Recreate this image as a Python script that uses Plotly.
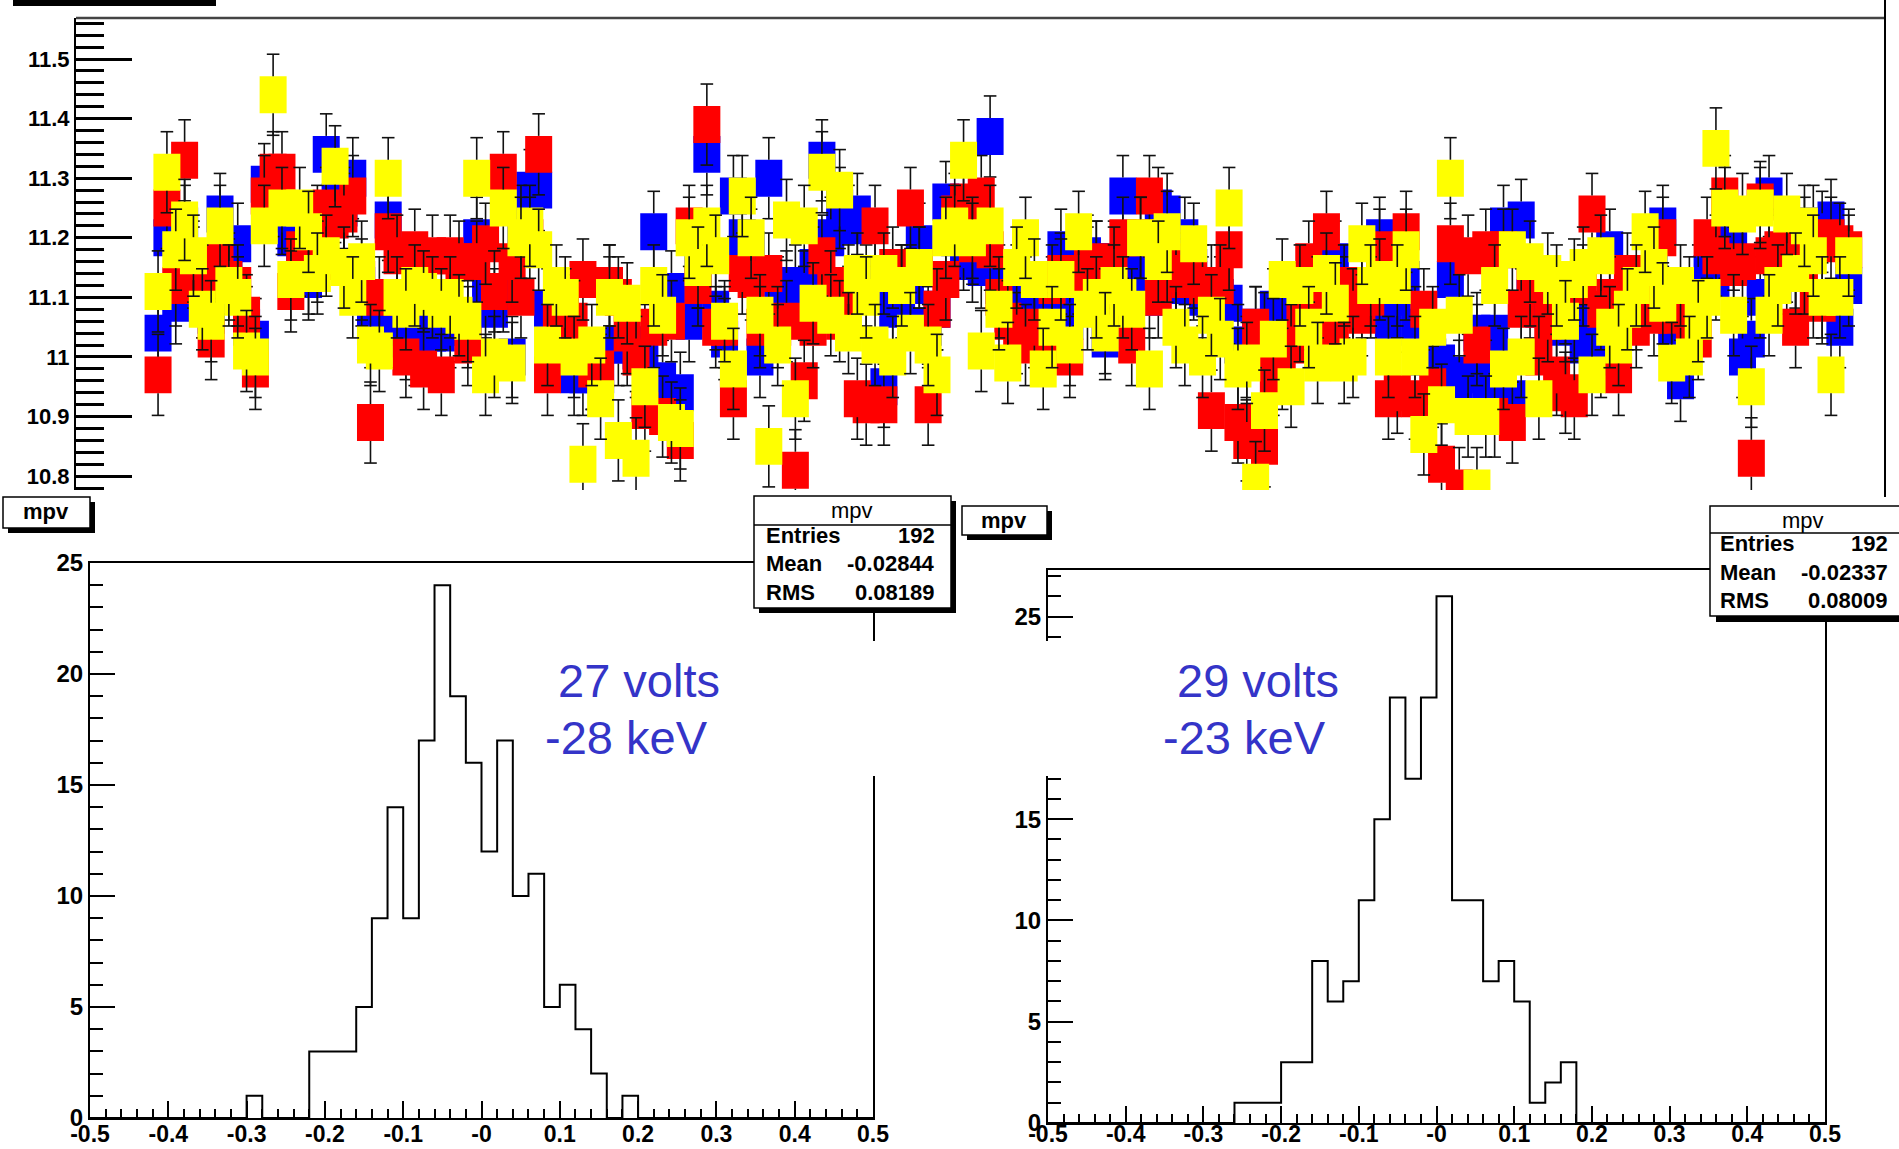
import plotly.graph_objects as go

W, H = 1899, 1149

# ---------------- top panel data: mpv per channel, three series ----------------
channels = list(range(192))

mpv_blue = [
    11.04, 11.20, 11.09, 11.22, 11.15, 11.10, 11.07, 11.24, 11.14, 11.19,
    11.05, 11.03, 11.29, 11.27, 11.24, 11.20, 11.17, 11.13, 11.22, 11.34,
    11.26, 11.25, 11.30, 11.12, 11.05, 11.06, 11.23, 11.05, 11.03, 11.02,
    11.04, 11.04, 11.04, 11.05, 11.06, 11.05, 11.20, 11.10, 11.08, 11.11,
    11.00, 11.22, 11.28, 11.28, 11.08, 11.08, 11.07, 10.97, 10.97, 10.98,
    10.97, 11.12, 11.02, 11.02, 11.01, 11.02, 11.21, 10.96, 11.11, 10.94,
    11.06, 11.15, 11.34, 11.08, 11.03, 11.27, 11.20, 11.18, 11.00, 11.30,
    11.10, 11.11, 11.12, 11.11, 11.15, 11.33, 11.20, 11.25, 11.22, 11.24,
    11.12, 11.14, 10.95, 11.08, 11.10, 11.12, 11.19, 11.05, 11.08, 11.26,
    11.20, 11.18, 11.16, 11.15, 11.37, 11.12, 11.10, 11.12, 11.10, 11.08,
    11.08, 11.10, 11.18, 11.06, 11.12, 11.17, 11.16, 11.03, 11.16, 11.27,
    11.16, 11.14, 11.10, 11.25, 11.24, 11.12, 11.20, 11.15, 11.10, 11.12,
    11.10, 11.09, 11.02, 11.00, 11.05, 11.04, 11.08, 11.08, 11.08, 11.09,
    11.08, 11.08, 11.10, 11.16, 11.10, 11.08, 11.10, 11.12, 11.20, 11.06,
    11.10, 11.13, 11.05, 11.00, 11.00, 10.99, 11.13, 10.96, 10.97, 11.04,
    10.96, 11.04, 11.22, 10.93, 11.23, 11.10, 11.08, 11.10, 11.05, 11.09,
    11.06, 11.02, 11.02, 11.00, 11.18, 11.06, 11.10, 11.08, 11.12, 11.14,
    11.22, 11.05, 10.96, 11.10, 11.12, 11.14, 11.13, 11.20, 11.18, 11.00,
    11.03, 11.10, 11.27, 11.12, 11.14, 11.15, 11.20, 11.22, 11.21, 11.23, 11.05, 11.12,
]

mpv_red = [
    10.97, 11.25, 11.12, 11.33, 11.16, 11.12, 11.03, 11.16, 11.13, 11.12,
    11.07, 10.98, 11.27, 11.31, 11.31, 11.11, 11.18, 11.14, 11.16, 11.25,
    11.23, 11.24, 11.27, 11.13, 10.89, 11.10, 11.21, 11.17, 11.00, 11.18,
    10.98, 11.17, 10.97, 11.17, 11.16, 11.02, 11.16, 11.19, 11.11, 11.31,
    11.16, 11.10, 11.20, 11.34, 10.97, 11.07, 11.08, 11.06, 11.13, 10.98,
    10.98, 11.12, 11.10, 11.04, 11.00, 10.91, 11.05, 10.90, 11.06, 10.86,
    11.22, 11.12, 11.39, 11.05, 11.05, 10.93, 11.14, 11.13, 11.05, 11.14,
    11.05, 11.06, 10.81, 10.96, 11.05, 11.17, 11.11, 11.06, 11.12, 10.93,
    10.92, 11.22, 10.92, 11.15, 11.12, 11.25, 11.15, 10.92, 11.08, 11.13,
    11.24, 11.26, 11.19, 11.27, 11.18, 11.10, 11.06, 11.04, 11.02, 11.05,
    11.04, 11.12, 11.14, 11.00, 11.14, 11.15, 11.16, 11.08, 11.15, 11.20,
    11.02, 11.20, 11.27, 11.10, 11.16, 11.14, 11.13, 11.13, 11.12, 10.91,
    11.12, 11.18, 10.89, 10.86, 11.05, 10.85, 10.97, 10.98, 11.02, 11.06,
    11.16, 11.10, 11.21, 11.04, 11.12, 11.08, 11.07, 11.10, 11.18, 10.93,
    10.94, 11.21, 10.93, 11.08, 10.95, 10.82, 11.19, 10.78, 11.17, 11.02,
    11.18, 10.90, 11.18, 10.89, 11.08, 11.12, 11.00, 11.06, 10.97, 10.94,
    10.93, 11.12, 11.24, 11.08, 11.10, 10.97, 11.14, 11.05, 11.12, 11.07,
    11.20, 11.07, 11.08, 11.06, 11.03, 11.20, 11.17, 11.27, 11.15, 11.16,
    10.83, 11.26, 11.17, 11.18, 11.16, 11.05, 11.14, 11.10, 11.09, 11.20, 11.19, 11.18,
]

mpv_yellow = [
    11.11, 11.31, 11.18, 11.23, 11.17, 11.08, 11.06, 11.22, 11.12, 11.10,
    11.01, 11.00, 11.22, 11.44, 11.25, 11.13, 11.25, 11.21, 11.14, 11.17,
    11.32, 11.15, 11.10, 11.16, 11.02, 11.01, 11.30, 11.10, 11.08, 11.12,
    11.11, 11.10, 11.08, 11.10, 11.07, 11.06, 11.30, 10.97, 11.00, 11.25,
    10.99, 11.20, 11.22, 11.18, 11.02, 11.12, 11.10, 11.00, 10.82, 11.02,
    10.93, 11.10, 10.86, 11.09, 10.83, 10.95, 11.12, 11.07, 10.89, 10.88,
    11.20, 11.15, 11.22, 11.17, 11.06, 10.98, 11.27, 11.20, 11.07, 10.85,
    11.02, 11.23, 10.93, 11.22, 11.09, 11.31, 11.07, 11.28, 11.04, 11.14,
    11.10, 11.02, 11.14, 11.00, 11.12, 11.04, 11.15, 11.02, 10.97, 11.20,
    11.22, 11.33, 11.20, 11.01, 11.22, 11.08, 10.99, 11.15, 11.20, 11.13,
    10.98, 11.05, 11.13, 11.02, 11.21, 11.08, 11.10, 11.04, 11.12, 11.10,
    11.08, 11.20, 10.98, 11.16, 11.21, 11.05, 11.02, 11.19, 11.00, 11.07,
    11.03, 11.25, 10.98, 10.99, 10.79, 10.91, 11.03, 11.13, 10.95, 11.12,
    11.05, 10.99, 11.14, 11.09, 10.99, 11.00, 11.19, 11.12, 11.13, 11.00,
    11.12, 11.18, 11.00, 10.87, 11.05, 10.92, 11.30, 11.07, 10.90, 10.78,
    10.90, 11.12, 10.98, 11.18, 11.00, 11.16, 10.93, 11.14, 11.12, 11.06,
    11.13, 11.15, 10.97, 11.17, 11.05, 11.02, 11.08, 11.12, 11.21, 11.15,
    11.09, 10.99, 11.12, 11.00, 11.06, 11.10, 11.35, 11.25, 11.07, 11.24,
    10.95, 11.25, 11.07, 11.12, 11.24, 11.14, 11.22, 11.17, 11.10, 10.97, 11.10, 11.17,
]
mpv_error = 0.068

top_tickvals = [10.8, 10.9, 11.0, 11.1, 11.2, 11.3, 11.4, 11.5]
top_ticktext = ["10.8", "10.9", "11", "11.1", "11.2", "11.3", "11.4", "11.5"]

# ---------------- histograms: 50 bins of 0.02 from -0.5 to 0.5 ----------------
bin_edges = [-0.50, -0.48, -0.46, -0.44, -0.42, -0.40, -0.38, -0.36, -0.34, -0.32,
             -0.30, -0.28, -0.26, -0.24, -0.22, -0.20, -0.18, -0.16, -0.14, -0.12,
             -0.10, -0.08, -0.06, -0.04, -0.02, 0.00, 0.02, 0.04, 0.06, 0.08,
             0.10, 0.12, 0.14, 0.16, 0.18, 0.20, 0.22, 0.24, 0.26, 0.28,
             0.30, 0.32, 0.34, 0.36, 0.38, 0.40, 0.42, 0.44, 0.46, 0.48, 0.50]
counts_27v = [0, 0, 0, 0, 0, 0, 0, 0, 0, 0,
              1, 0, 0, 0, 3, 3, 3, 5, 9, 14,
              9, 17, 24, 19, 16, 12, 17, 10, 11, 5,
              6, 4, 2, 0, 1, 0, 0, 0, 0, 0,
              0, 0, 0, 0, 0, 0, 0, 0, 0, 0]
counts_29v = [0, 0, 0, 0, 0, 0, 0, 0, 0, 0,
              0, 0, 1, 1, 1, 3, 3, 8, 6, 7,
              11, 15, 21, 17, 21, 26, 11, 11, 7, 8,
              6, 1, 2, 3, 0, 0, 0, 0, 0, 0,
              0, 0, 0, 0, 0, 0, 0, 0, 0, 0]
hist_tickvals = [-0.5, -0.4, -0.3, -0.2, -0.1, 0.0, 0.1, 0.2, 0.3, 0.4, 0.5]
hist_ticktext = ["-0.5", "-0.4", "-0.3", "-0.2", "-0.1", "-0", "0.1", "0.2", "0.3", "0.4", "0.5"]
count_tickvals = [0, 5, 10, 15, 20, 25]

stats_27v = [("Entries", "192"), ("Mean", "-0.02844"), ("RMS", "0.08189")]
stats_29v = [("Entries", "192"), ("Mean", "-0.02337"), ("RMS", "0.08009")]

assert len(mpv_blue) == len(mpv_red) == len(mpv_yellow) == 192

# ---------------- layout geometry (pixels) ----------------
FONT = "Liberation Sans, Arial, sans-serif"
BOX_H = 0.062      # marker box height in data units
BOX_W = 3.05       # marker box width in channel units
TOP_XRANGE = [-9.27, 195.1]
TOP_YRANGE = [10.7768, 11.5688]


def fx(px):
    return px / W


def fy(py):
    return 1 - py / H


fig = go.Figure()

# --- top panel: each series in its own overlaid subplot so that later
#     series (boxes + error bars) are painted over earlier ones ---
series = [(mpv_blue, "#0000ff", "x", "y"),
          (mpv_red, "#ff0000", "x4", "y4"),
          (mpv_yellow, "#ffff00", "x5", "y5")]
for vals, col, xa, ya in series:
    n = len(vals)
    seg = mpv_error - BOX_H / 2
    fig.add_trace(go.Bar(
        x=channels, y=[BOX_H] * n, base=[v - BOX_H / 2 for v in vals],
        width=BOX_W, marker=dict(color=col, line=dict(width=0)),
        xaxis=xa, yaxis=ya, hoverinfo="skip", showlegend=False))
    # upper part of error bar (box top -> cap)
    fig.add_trace(go.Scatter(
        x=channels, y=[v + mpv_error for v in vals], mode="markers",
        marker=dict(symbol="line-ew", size=9, color="#111", line=dict(width=1.6, color="#111")),
        error_y=dict(type="data", symmetric=False, array=[0] * n, arrayminus=[seg] * n,
                     width=0, thickness=1.6, color="#111"),
        xaxis=xa, yaxis=ya, hoverinfo="skip", showlegend=False))
    # lower part
    fig.add_trace(go.Scatter(
        x=channels, y=[v - mpv_error for v in vals], mode="markers",
        marker=dict(symbol="line-ew", size=9, color="#111", line=dict(width=1.6, color="#111")),
        error_y=dict(type="data", symmetric=False, array=[seg] * n, arrayminus=[0] * n,
                     width=0, thickness=1.6, color="#111"),
        xaxis=xa, yaxis=ya, hoverinfo="skip", showlegend=False))

# --- histograms ---
fig.add_trace(go.Scatter(x=bin_edges, y=counts_27v + [counts_27v[-1]], mode="lines",
                         line=dict(shape="hv", color="black", width=2),
                         xaxis="x2", yaxis="y2", hoverinfo="skip", showlegend=False))
fig.add_trace(go.Scatter(x=bin_edges, y=counts_29v + [counts_29v[-1]], mode="lines",
                         line=dict(shape="hv", color="black", width=2),
                         xaxis="x3", yaxis="y3", hoverinfo="skip", showlegend=False))

tickfont_top = dict(family=FONT, size=22, color="black", weight="bold")
tickfont = dict(family=FONT, size=24, color="black", weight="bold")
tickfont_x = dict(family=FONT, size=23, color="black", weight="bold")


def hist_xaxis(standoff):
    return dict(range=[-0.5, 0.5], tickmode="array", tickvals=hist_tickvals, ticktext=hist_ticktext,
                ticks="inside", ticklen=17, tickwidth=2, tickcolor="black",
                minor=dict(dtick=0.02, tick0=-0.5, ticks="inside", ticklen=9, tickwidth=1.5,
                           tickcolor="black", showgrid=False),
                showline=True, linewidth=2, linecolor="black", mirror=True,
                showgrid=False, zeroline=False, tickfont=tickfont_x, automargin=False,
                ticklabelstandoff=standoff)


hist_y = dict(tickmode="array", tickvals=count_tickvals, ticktext=[str(v) for v in count_tickvals],
              ticks="inside", ticklen=25, tickwidth=2, tickcolor="black",
              minor=dict(dtick=1, tick0=0, ticks="inside", ticklen=13, tickwidth=1.5,
                         tickcolor="black", showgrid=False),
              showline=True, linewidth=2, linecolor="black", mirror=True,
              showgrid=False, zeroline=False, tickfont=tickfont, automargin=False)

hidden = dict(visible=False, automargin=False, showgrid=False, zeroline=False)

fig.update_layout(
    width=W, height=H, margin=dict(l=0, r=0, t=0, b=0, pad=0, autoexpand=False),
    paper_bgcolor="white", plot_bgcolor="rgba(0,0,0,0)",
    barmode="overlay", showlegend=False,
    xaxis=dict(domain=[fx(76), fx(1885)], range=TOP_XRANGE, anchor="y", **hidden),
    yaxis=dict(domain=[fy(490), fy(18)], range=TOP_YRANGE, anchor="x",
               tickmode="array", tickvals=top_tickvals, ticktext=top_ticktext,
               ticks="inside", ticklen=56, tickwidth=2.5, tickcolor="black",
               minor=dict(dtick=0.02, tick0=10.8, ticks="inside", ticklen=28, tickwidth=2.5,
                          tickcolor="black", showgrid=False),
               showline=True, linewidth=2, linecolor="black",
               showgrid=False, zeroline=False, tickfont=tickfont_top, automargin=False),
    xaxis4=dict(overlaying="x", range=TOP_XRANGE, anchor="y4", **hidden),
    yaxis4=dict(overlaying="y", range=TOP_YRANGE, anchor="x4", **hidden),
    xaxis5=dict(overlaying="x", range=TOP_XRANGE, anchor="y5", **hidden),
    yaxis5=dict(overlaying="y", range=TOP_YRANGE, anchor="x5", **hidden),
    xaxis2=dict(domain=[fx(90), fx(873)], anchor="y2", **hist_xaxis(-6)),
    yaxis2=dict(domain=[fy(1118), fy(563)], range=[0, 25], anchor="x2", **hist_y),
    xaxis3=dict(domain=[fx(1048), fx(1825)], anchor="y3", **hist_xaxis(-11)),
    yaxis3=dict(domain=[fy(1123), fy(570)], range=[0, 27.3], anchor="x3", **hist_y),
)

shapes = []


def rect(x0, y0, x1, y1, fill, line_color=None, lw=0):
    shapes.append(dict(type="rect", xref="paper", yref="paper",
                       x0=fx(x0), x1=fx(x1), y0=fy(y1), y1=fy(y0),
                       fillcolor=fill, line=dict(color=line_color or fill, width=lw), layer="above"))


def seg_line(x0, y0, x1, y1, color="black", w=1.5):
    shapes.append(dict(type="line", xref="paper", yref="paper",
                       x0=fx(x0), x1=fx(x1), y0=fy(y0), y1=fy(y1),
                       line=dict(color=color, width=w), layer="above"))


# top panel decorations
rect(13, 0, 216, 6, "black")
seg_line(76, 18, 1885, 18, "#444", 2.5)
seg_line(1885, 0, 1885, 497, "black", 2)

# white text boxes of the annotations (cover frame lines)
rect(530, 641, 890, 776, "white")
rect(1000, 641, 1380, 776, "white")

# stats boxes
rect(759, 501, 956, 613, "black")
rect(754, 496, 951, 608, "white", "black", 1.5)
seg_line(754, 525, 951, 525)
rect(1716, 512, 1910, 622, "black")
rect(1710, 506, 1905, 616, "white", "black", 1.5)
seg_line(1710, 533, 1905, 533)

# "mpv" title boxes
rect(8, 502, 95, 533, "black")
rect(3, 497, 90, 528, "white", "black", 1.5)
rect(967, 511, 1052, 540, "black")
rect(962, 506, 1047, 535, "white", "black", 1.5)

annotations = []


def text(x, y, s, size=22, anchor="left", color="black", weight="bold"):
    annotations.append(dict(xref="paper", yref="paper", x=fx(x), y=fy(y), text=s,
                            showarrow=False, xanchor=anchor, yanchor="middle",
                            font=dict(family=FONT, size=size, color=color, weight=weight)))


text(46, 512, "mpv", anchor="center")
text(1004, 520, "mpv", anchor="center")

text(852, 511, "mpv", anchor="center", weight="normal")
for (lab, val), yy in zip(stats_27v, [535, 563, 592]):
    text(764, yy, lab)
    text(937, yy, val, anchor="right")
text(1803, 520, "mpv", anchor="center", weight="normal")
for (lab, val), yy in zip(stats_29v, [543, 572, 600]):
    text(1718, yy, lab)
    text(1890, yy, val, anchor="right")

BLUE_TXT = "#3434c8"
text(556, 680, "27 volts", size=47, color=BLUE_TXT, weight="normal")
text(543, 737, "-28 keV", size=47, color=BLUE_TXT, weight="normal")
text(1175, 680, "29 volts", size=47, color=BLUE_TXT, weight="normal")
text(1161, 737, "-23 keV", size=47, color=BLUE_TXT, weight="normal")

fig.update_layout(shapes=shapes, annotations=annotations)

fig.write_html("out.html")
